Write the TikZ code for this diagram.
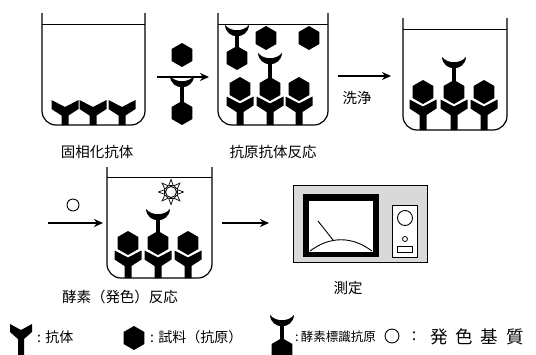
\documentclass[tikz,border=0pt]{standalone}
\usepackage{fontspec}
\newfontfamily\jp{Noto Sans CJK JP}
\newfontfamily\jpwide[LetterSpace=45]{Noto Sans CJK JP}
\usetikzlibrary{arrows.meta}

% hexagonal sample antigen centred at (x,y)
\newcommand{\antigen}[2]{%
  \fill[shift={(#1,#2)}] (0,-12) -- (10.4,-6) -- (10.4,6) -- (0,12) -- (-10.4,6) -- (-10.4,-6) -- cycle;}
% Y-shaped antibody: x, top of the arms, foot of the stem
\newcommand{\antibody}[3]{%
  \fill (#1-13.5,#2) -- (#1,#2+7) -- (#1+13.5,#2) -- (#1+13.5,#2+9) -- (#1+3.5,#2+15.5)
    -- (#1+3.5,#3) -- (#1-3.5,#3) -- (#1-3.5,#2+15.5) -- (#1-13.5,#2+9) -- cycle;}
% enzyme-labelled antigen: x, tips of the crescent, centre of the hexagon
\newcommand{\tagged}[3]{%
  \fill (#1-12,#2) .. controls (#1-11,#2+15) and (#1+11,#2+15) .. (#1+12,#2)
    .. controls (#1+6,#2+7) and (#1-6,#2+7) .. cycle;
  \fill (#1-2.3,#2+9) rectangle (#1+2.3,#3-10);
  \antigen{#1}{#3}}
% open vessel: left, right, rim, liquid level, bottom
\newcommand{\beaker}[5]{%
  \draw[vessel] (#1,#3) -- (#1,#5) -- (#2,#5) -- (#2,#3);
  \draw[line width=1pt] (#1,#4) -- (#2,#4);}

\begin{document}
\begin{tikzpicture}[x=1pt,y=-1pt,
  vessel/.style={line width=1.2pt, rounded corners=14pt},
  flow/.style={line width=1.8pt, -{Stealth[length=9pt,width=8pt]}},
  lbl/.style={font=\jp\fontsize{14.5}{16}\selectfont, inner sep=0pt},
  key/.style={font=\jp\fontsize{14}{16}\selectfont, inner sep=0pt, anchor=west},
]
\useasboundingbox (0,0) rectangle (536,354);

% ---- step 1: immobilised antibodies
\beaker{42}{145}{13}{24}{125}
\antibody{65}{100}{125}
\antibody{93}{100}{125}
\antibody{122}{100}{125}
\node[lbl] (l1) at (97,152) {固相化抗体};

% reagents added
\antigen{182}{55}
\tagged{182}{76}{113}
\coordinate (a1s) at (157,77);
\coordinate (a1e) at (209,77);
\draw[flow] (a1s) -- (a1e);

% ---- step 2: antigen-antibody reaction
\beaker{218}{328}{13}{24}{125}
\tagged{237}{25}{58}
\antigen{266}{38}
\antigen{309}{38}
\antigen{240}{89}
\tagged{270}{53}{89}
\antigen{299}{89}
\antibody{240}{96.5}{125}
\antibody{270}{96.5}{125}
\antibody{299}{96.5}{125}
\node[lbl] (l2) at (273,152) {抗原抗体反応};

\coordinate (a2s) at (338,76);
\coordinate (a2e) at (391,76);
\draw[flow] (a2s) -- (a2e);
\node[lbl] (wash) at (357,98) {洗浄};

% ---- step 3: after washing
\beaker{403}{507}{18}{29}{130}
\antigen{423}{92}
\tagged{454}{57}{92}
\antigen{484}{92}
\antibody{423}{99.5}{130}
\antibody{454}{99.5}{130}
\antibody{484}{99.5}{130}

% ---- step 4: colour reaction
\draw[line width=0.9pt] (73,205) circle[radius=6pt];
\coordinate (a3s) at (48,223);
\coordinate (a3e) at (103,223);
\draw[flow] (a3s) -- (a3e);

\beaker{107}{212}{167}{177}{278}
\antigen{128}{243}
\tagged{158}{209}{243}
\antigen{188}{243}
\antibody{128}{250.5}{278}
\antibody{158}{250.5}{278}
\antibody{188}{250.5}{278}
\begin{scope}[shift={(171,192)}]
  \foreach \a in {0,45,...,315}
    \draw[line width=0.7pt, fill=white, rotate=\a] (6.5,-2.3) -- (12.5,0) -- (6.5,2.3) -- cycle;
  \draw[line width=0.9pt, fill=white] (0,0) circle[radius=5.5pt];
\end{scope}
\node[lbl] (l4) at (120,297) {酵素（発色）反応};

\coordinate (a4s) at (222,223);
\coordinate (a4e) at (269,223);
\draw[flow] (a4s) -- (a4e);

% ---- measuring instrument
\draw[line width=0.8pt, fill=gray!30] (293,185) rectangle (427,262);
\fill (303,194) rectangle (379,257);
\fill[white] (309,201) rectangle (373,252);
\draw[line width=0.9pt] (310,251) .. controls (330,236) and (352,236) .. (372,251);
\draw[line width=0.9pt] (318,221) -- (333,240);
\draw[line width=0.9pt, fill=white] (392,205) rectangle (417,257);
\draw[line width=0.9pt] (405,218) circle[radius=7.5pt];
\draw[line width=0.8pt] (405,239) circle[radius=2.5pt];
\draw[line width=0.8pt] (397,246) rectangle (412,252);
\node[lbl] (l5) at (348,288) {測定};

% ---- key
\fill (10,324) -- (21,330) -- (32,324) -- (32,332) -- (24,339) -- (24,356) -- (18,356) -- (18,339) -- (10,332) -- cycle;
\node[key] (k1) at (37,337) {: 抗体};
\antigen{134}{338}
\node[key] (k2) at (150,337) {: 試料（抗原）};
\begin{scope}
  \clip (0,0) rectangle (536,354);
  \tagged{282}{315}{350}
\end{scope}
\node[key, font=\jp\fontsize{12.5}{14}\selectfont] (k3) at (295,337) {:\,酵素標識抗原};
\draw[line width=0.9pt] (392,336) circle[radius=7pt];
\node[key] (k4c) at (407,337) {：};
\node[key, font=\jpwide\fontsize{17.5}{19}\selectfont] (k4) at (430,337) {発色基質};
\end{tikzpicture}
\end{document}
